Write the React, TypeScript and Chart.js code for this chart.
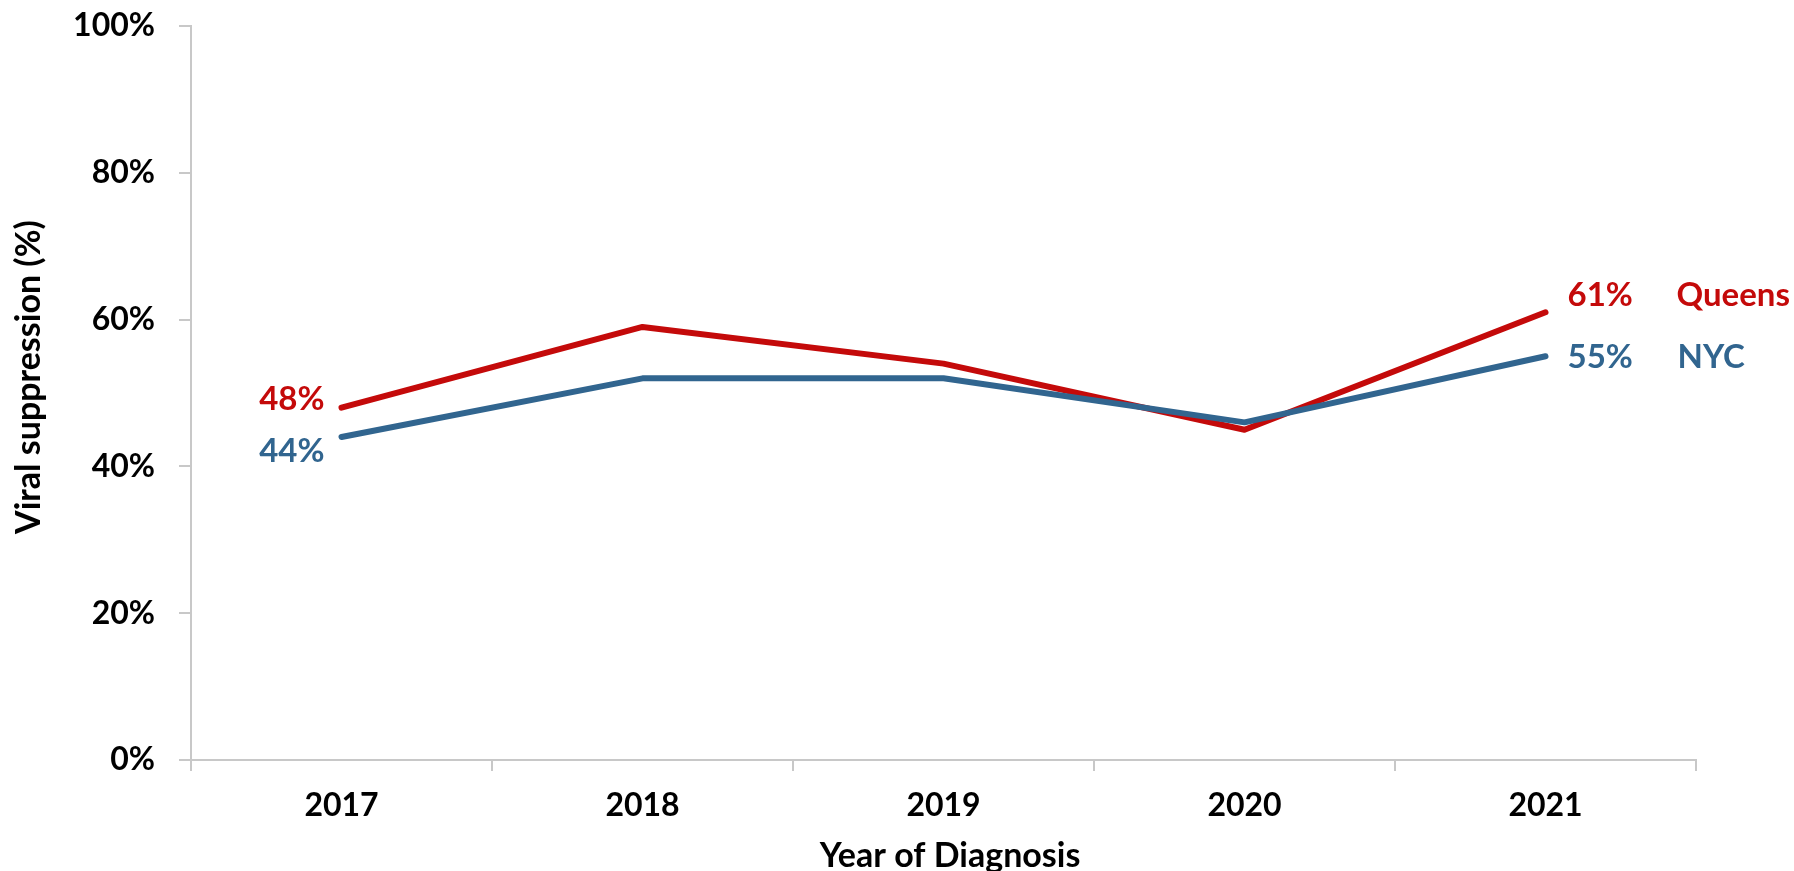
import React, { useEffect, useRef } from "react";
import { Chart, registerables } from "chart.js";

Chart.register(...registerables);

const years = ["2017", "2018", "2019", "2020", "2021"];
const queens = [48, 59, 54, 45, 61];
const nyc = [44, 52, 52, 46, 55];
const yTicks = [0, 20, 40, 60, 80, 100];

const RED = "#C40A0A";
const BLUE = "#31658F";
const FONT = "Lato, 'Open Sans', sans-serif";

export default function App() {
  const ref = useRef<HTMLCanvasElement | null>(null);

  useEffect(() => {
    if (!ref.current) return;

    const labelPlugin = {
      id: "endLabels",
      afterDatasetsDraw(chart: any) {
        const ctx = chart.ctx;
        ctx.save();
        ctx.font = `bold 33px ${FONT}`;
        ctx.textBaseline = "middle";
        const nycMeta = chart.getDatasetMeta(0);
        const qMeta = chart.getDatasetMeta(1);
        const q0 = qMeta.data[0];
        const n0 = nycMeta.data[0];
        const qL = qMeta.data[queens.length - 1];
        const nL = nycMeta.data[nyc.length - 1];
        ctx.textAlign = "right";
        ctx.fillStyle = RED;
        ctx.fillText(`${queens[0]}%`, q0.x - 17, q0.y - 8);
        ctx.fillStyle = BLUE;
        ctx.fillText(`${nyc[0]}%`, n0.x - 17, n0.y + 14);
        ctx.textAlign = "left";
        ctx.fillStyle = RED;
        ctx.fillText(`${queens[queens.length - 1]}%`, qL.x + 22, qL.y - 17);
        ctx.fillText("Queens", qL.x + 131, qL.y - 17);
        ctx.fillStyle = BLUE;
        ctx.fillText(`${nyc[nyc.length - 1]}%`, nL.x + 22, nL.y + 1);
        ctx.fillText("NYC", nL.x + 132, nL.y + 1);
        ctx.restore();
      },
      afterDraw(chart: any) {
        const ctx = chart.ctx;
        ctx.save();
        ctx.font = `bold 34px ${FONT}`;
        ctx.fillStyle = "#000";
        ctx.textAlign = "center";
        ctx.textBaseline = "alphabetic";
        ctx.fillText("Year of Diagnosis", 950, 867);
        ctx.translate(29, 377);
        ctx.rotate(-Math.PI / 2);
        ctx.textBaseline = "middle";
        ctx.fillText("Viral suppression (%)", 0, 0);
        ctx.restore();
      },
    };

    const chart = new Chart(ref.current, {
      type: "line",
      data: {
        labels: years,
        datasets: [
          {
            label: "NYC",
            data: nyc,
            borderColor: BLUE,
            borderWidth: 6,
            pointRadius: 0,
            borderCapStyle: "round",
            borderJoinStyle: "round",
            tension: 0,
          },
          {
            label: "Queens",
            data: queens,
            borderColor: RED,
            borderWidth: 6,
            pointRadius: 0,
            borderCapStyle: "round",
            borderJoinStyle: "round",
            tension: 0,
          },
        ],
      },
      options: {
        animation: false,
        responsive: false,
        maintainAspectRatio: false,
        layout: { padding: { left: 0, top: 26, right: 98, bottom: 0 } },
        plugins: {
          legend: { display: false },
          tooltip: { enabled: false },
          title: { display: false },
        },
        scales: {
          x: {
            type: "category",
            offset: true,
            afterFit: (s: any) => {
              s.height = 111;
              s.paddingLeft = 0;
              s.paddingRight = 0;
            },
            grid: {
              offset: true,
              drawOnChartArea: false,
              drawTicks: true,
              tickLength: 11,
              color: "#c8c8c8",
              lineWidth: 2,
            },
            border: { display: true, color: "#c8c8c8", width: 2 },
            ticks: {
              color: "#000",
              font: { family: FONT, size: 32, weight: "bold" },
              padding: 15,
              maxRotation: 0,
            },
          },
          y: {
            min: 0,
            max: 100,
            afterFit: (s: any) => {
              s.width = 191;
              s.paddingTop = 0;
              s.paddingBottom = 0;
            },
            afterBuildTicks: (s: any) => {
              s.ticks = yTicks.map((v) => ({ value: v }));
            },
            grid: {
              drawOnChartArea: false,
              drawTicks: true,
              tickLength: 12,
              color: "#c8c8c8",
              lineWidth: 2,
            },
            border: { display: true, color: "#c8c8c8", width: 2 },
            ticks: {
              color: "#000",
              font: { family: FONT, size: 32, weight: "bold" },
              padding: 24,
              callback: (v: any) => `${v}%`,
            },
          },
        },
      },
      plugins: [labelPlugin],
    });
    return () => chart.destroy();
  }, []);

  return (
    <div style={{ position: "fixed", left: 0, top: 0, width: 1794, height: 871, background: "#fff" }}>
      <canvas ref={ref} width={1794} height={871} style={{ width: 1794, height: 871, display: "block" }} />
    </div>
  );
}
